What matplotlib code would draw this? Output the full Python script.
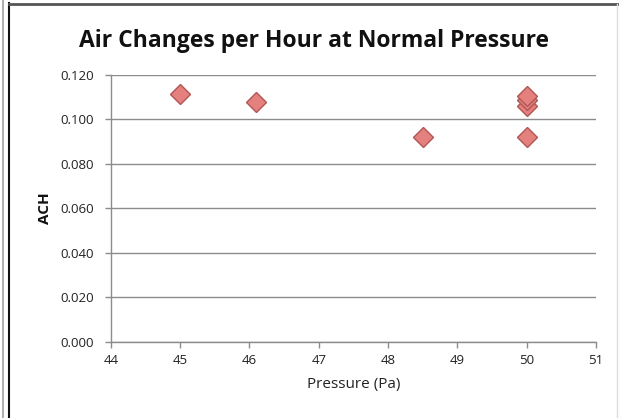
import numpy as np
import matplotlib
matplotlib.use("Agg")
from matplotlib import pyplot as plt
from matplotlib.lines import Line2D

# data
pressure = [45.0, 46.1, 48.5, 50.0, 50.0, 50.0, 50.0]
ach = [0.1113, 0.1077, 0.0920, 0.0920, 0.1062, 0.1085, 0.1104]

x_ticks = [44, 45, 46, 47, 48, 49, 50, 51]
y_ticks = [0.000, 0.020, 0.040, 0.060, 0.080, 0.100, 0.120]

title = "Air Changes per Hour at Normal Pressure"
xlabel = "Pressure (Pa)"
ylabel = "ACH"

plt.rcParams['font.family'] = ['Open Sans', 'DejaVu Sans']

fig = plt.figure(figsize=(6.19, 4.18), dpi=100)
ax = fig.add_axes([0.179, 0.182, 0.784, 0.639])

ax.plot(pressure, ach, linestyle="none", marker="D", markersize=10.5,
        markerfacecolor="#e4807d", markeredgecolor="#b25655", markeredgewidth=1.0,
        zorder=3)

ax.set_xlim(44, 51)
ax.set_ylim(0, 0.12)
ax.set_xticks(x_ticks)
ax.set_yticks(y_ticks)
ax.set_yticklabels(["%.3f" % v for v in y_ticks])
ax.yaxis.grid(True, color="#8c8c8c", linewidth=1.0)
ax.set_axisbelow(True)

for side in ["top", "right"]:
    ax.spines[side].set_visible(False)
for side in ["left", "bottom"]:
    ax.spines[side].set_color("#8c8c8c")
    ax.spines[side].set_linewidth(1.0)
ax.tick_params(axis="both", colors="#8c8c8c", length=4, width=1.0,
               labelcolor="#222222", labelsize=9.5)
ax.tick_params(axis="x", pad=5)
ax.tick_params(axis="y", pad=8)

ax.set_xlabel(xlabel, fontsize=11, color="#222222", labelpad=7)
ax.set_ylabel(ylabel, fontsize=11, fontweight="bold", color="#111111", labelpad=6)
fig.text(0.507, 0.903, title, ha="center", va="center", fontsize=16.5,
         fontweight="bold", color="#111111")

# chart frame lines
fig.add_artist(Line2D([0.005, 0.005], [0, 1], color="#b0b0b0", linewidth=1.5))
fig.add_artist(Line2D([0.014, 0.014], [0, 0.992], color="#111111", linewidth=1.5))
fig.add_artist(Line2D([0.014, 1.0], [0.991, 0.991], color="#555555", linewidth=2.0))
fig.add_artist(Line2D([0.997, 0.997], [0, 0.99], color="#dddddd", linewidth=1.0))

fig.savefig("out.png", dpi=100)
